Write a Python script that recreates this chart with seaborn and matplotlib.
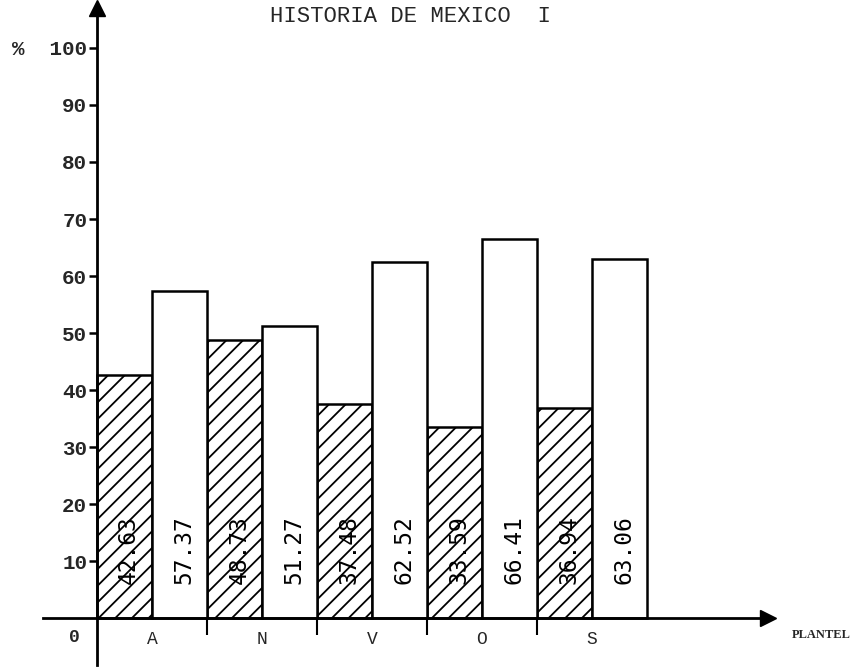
import matplotlib
matplotlib.use("Agg")
import matplotlib.pyplot as plt
import seaborn as sns
import pandas as pd

# ---- data ----
planteles = ["A", "N", "V", "O", "S"]
reprobados = [42.63, 48.73, 37.48, 33.59, 36.94]   # hatched bars
aprobados = [57.37, 51.27, 62.52, 66.41, 63.06]    # white bars
y_ticks = [10, 20, 30, 40, 50, 60, 70, 80, 90, 100]
y_tick_labels = ["10", "20", "30", "40", "50", "60", "70", "80", "90", "%  100"]
title = "HISTORIA DE MEXICO  I"
x_label = "PLANTEL"

df = pd.DataFrame({
    "plantel": planteles * 2,
    "grupo": ["rep"] * len(planteles) + ["apr"] * len(planteles),
    "valor": reprobados + aprobados,
})

sns.set_style("white")
plt.rcParams["hatch.linewidth"] = 1.3
plt.rcParams["font.family"] = ["Liberation Mono", "DejaVu Sans Mono"]

fig = plt.figure(figsize=(8.52, 6.71), dpi=100)
ax = fig.add_axes([43 / 852, 6 / 671, (768 - 43) / 852, (665 - 8) / 671])

sns.barplot(data=df, x="plantel", y="valor", hue="grupo", order=planteles,
            hue_order=["rep", "apr"], width=1.0, dodge=True,
            palette=["white", "white"], edgecolor="black", linewidth=1.8,
            saturation=1, legend=False, ax=ax)

for bar in ax.containers[0]:
    bar.set_hatch("//")

# value labels, rotated, inside bars
for cont in ax.containers:
    for bar, val in zip(cont, cont.datavalues):
        ax.text(bar.get_x() + bar.get_width() / 2 + 0.04, 12, f"{val:.2f}",
                rotation=90, ha="center", va="center", fontsize=16.5,
                family="DejaVu Sans Mono", color="black")

ax.set_xlim(-0.99, 5.6)
ax.set_ylim(-8.2, 107)

for s in ["top", "right"]:
    ax.spines[s].set_visible(False)
ax.spines["left"].set_position(("data", -0.5))
ax.spines["bottom"].set_position(("data", 0))
ax.spines["left"].set_linewidth(2)
ax.spines["bottom"].set_linewidth(2)
ax.spines["left"].set_color("black")
ax.spines["bottom"].set_color("black")

# arrows at the axis ends
ax.plot(1, 0, ">", color="black", markersize=12, clip_on=False,
        transform=ax.get_yaxis_transform())
ax.plot(-0.5, 1, "^", color="black", markersize=12, clip_on=False,
        transform=ax.get_xaxis_transform())

ax.set_yticks(y_ticks)
ax.set_yticklabels(y_tick_labels, fontsize=15, fontweight="bold")
ax.tick_params(axis="y", direction="out", length=6, width=1.8, color="black",
               left=True, pad=1)

ax.set_xticks(range(len(planteles)))
ax.set_xticklabels(planteles, fontsize=13)
ax.tick_params(axis="x", length=0, pad=9)
ax.set_xticks([0.5, 1.5, 2.5, 3.5], minor=True)
ax.tick_params(axis="x", which="minor", direction="out", length=12, width=1.5,
               color="black", bottom=True)

ax.set_xlabel("")
ax.set_ylabel("")

fig.text(74 / 852, 1 - 638 / 671, "0", fontsize=13, fontweight="bold",
         ha="center", va="center")
fig.text(410 / 852, 1 - 17 / 671, title, fontsize=16, ha="center", va="center")
fig.text(851 / 852, 1 - 635 / 671, x_label, fontsize=9, fontweight="bold",
         family="Liberation Serif", ha="right", va="center")

fig.savefig("out.png", dpi=100)
